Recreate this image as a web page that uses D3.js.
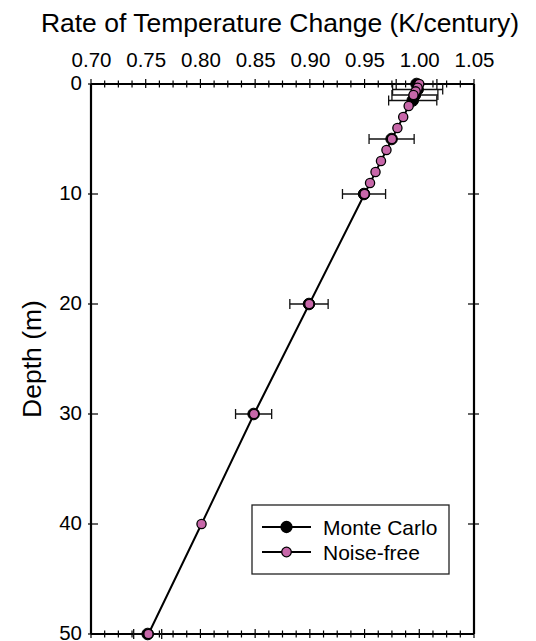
<!DOCTYPE html>
<html>
<head>
<meta charset="utf-8">
<script src="https://cdn.jsdelivr.net/npm/d3@7"></script>
<style>
  html, body { margin: 0; padding: 0; background: #fff; }
  svg { display: block; }
  text { font-family: "Liberation Sans", Arial, Helvetica, sans-serif; fill: #000; }
</style>
</head>
<body>
<svg id="chart" width="536" height="641"></svg>
<script>
// ---- data ----
const nfDepth = [0, 0.33, 0.67, 1, 2, 3, 4, 5, 6, 7, 8, 9, 10, 20, 30, 40, 50];
const nfRate  = [1.000, 0.9985, 0.9967, 0.9947, 0.9903, 0.9853, 0.980, 0.975, 0.970, 0.965, 0.960, 0.955, 0.950, 0.8995, 0.849, 0.801, 0.7525];

const mcDepth = [0, 0.5, 1, 1.5, 5, 10, 20, 30, 50];
const mcRate  = [0.9975, 0.9985, 0.996, 0.994, 0.9747, 0.9495, 0.8992, 0.8486, 0.7518];
const mcErr   = [0.0186, 0.0229, 0.021, 0.022, 0.0206, 0.0197, 0.0175, 0.0165, 0.0128];

const xTickValues = [0.70, 0.75, 0.80, 0.85, 0.90, 0.95, 1.00, 1.05];
const yTickValues = [0, 10, 20, 30, 40, 50];
const legendLabels = ["Monte Carlo", "Noise-free"];

const titleText = "Rate of Temperature Change (K/century)";
const yLabelText = "Depth (m)";

// ---- layout ----
const svg = d3.select("#chart");
const L = 91, R = 474, T = 84, B = 634;
const x = d3.scaleLinear().domain([0.70, 1.05]).range([L, R]);
const y = d3.scaleLinear().domain([0, 50]).range([T, B]);
const pink = "#c767a9";

const minorTicks = d3.range(0, 29).map(i => 0.70 + i * 0.0125);

// frame lines
const frame = svg.append("g").attr("stroke", "#000").attr("stroke-width", 2.2).attr("fill", "none");
frame.append("line").attr("x1", L).attr("x2", R).attr("y1", T).attr("y2", T);
frame.append("line").attr("x1", L).attr("x2", R).attr("y1", B).attr("y2", B);
frame.append("line").attr("x1", L).attr("x2", L).attr("y1", T).attr("y2", B);
frame.append("line").attr("x1", R).attr("x2", R).attr("y1", T).attr("y2", B);

// top axis (labels) and ticks
const topAxis = d3.axisTop(x).tickValues(xTickValues).tickFormat(d3.format(".2f")).tickSize(0).tickPadding(0);
const gTop = svg.append("g").attr("transform", `translate(0,${T})`).call(topAxis);
gTop.select(".domain").remove();
gTop.selectAll("text").attr("y", -17).attr("font-size", 20.5).attr("font-family", "Liberation Sans, Arial, sans-serif").attr("fill", "#000");

// tick marks on top & bottom
const tickG = svg.append("g").attr("stroke", "#000").attr("stroke-width", 1.2);
minorTicks.forEach((v, i) => {
  const major = i % 4 === 0;
  [T, B].forEach(yy => {
    tickG.append("line")
      .attr("x1", x(v)).attr("x2", x(v))
      .attr("y1", yy - (major ? 5 : 3.5)).attr("y2", yy + (major ? 4 : 3.5));
  });
});

// left axis labels
const leftAxis = d3.axisLeft(y).tickValues(yTickValues).tickSize(0).tickPadding(0);
const gLeft = svg.append("g").attr("transform", `translate(${L},0)`).call(leftAxis);
gLeft.select(".domain").remove();
gLeft.selectAll("text").attr("x", -9).attr("dy", "0.27em").attr("font-size", 20.5).attr("font-family", "Liberation Sans, Arial, sans-serif").attr("fill", "#000");

// y ticks on left & right
yTickValues.forEach(v => {
  tickG.append("line").attr("x1", L - 3).attr("x2", L + 7).attr("y1", y(v)).attr("y2", y(v));
  if (v > 0 && v < 50) tickG.append("line").attr("x1", R - 6).attr("x2", R + 5).attr("y1", y(v)).attr("y2", y(v));
});

// title & y label
svg.append("text").attr("x", 280).attr("y", 32).attr("text-anchor", "middle")
  .attr("font-size", 26.5).text(titleText);
svg.append("text").attr("transform", `translate(41,${(T + B) / 2}) rotate(-90)`)
  .attr("text-anchor", "middle").attr("font-size", 26.5).text(yLabelText);

// line (noise-free)
const nf = nfDepth.map((d, i) => ({ d, r: nfRate[i] }));
const mc = mcDepth.map((d, i) => ({ d, r: mcRate[i], e: mcErr[i] }));

svg.append("path").datum(nf)
  .attr("fill", "none").attr("stroke", "#000").attr("stroke-width", 2)
  .attr("d", d3.line().x(p => x(p.r)).y(p => y(p.d)));

// error bars
const eb = svg.append("g").attr("stroke", "#111").attr("stroke-width", 1.3);
mc.forEach(p => {
  const x0 = x(p.r - p.e), x1 = x(p.r + p.e), yy = y(p.d);
  eb.append("line").attr("x1", x0).attr("x2", x1).attr("y1", yy).attr("y2", yy);
  eb.append("line").attr("x1", x0).attr("x2", x0).attr("y1", yy - 5).attr("y2", yy + 5);
  eb.append("line").attr("x1", x1).attr("x2", x1).attr("y1", yy - 5).attr("y2", yy + 5);
});

// monte carlo markers
svg.append("g").selectAll("circle").data(mc).join("circle")
  .attr("cx", p => x(p.r)).attr("cy", p => y(p.d)).attr("r", 5.8)
  .attr("fill", "#000").attr("stroke", "#000").attr("stroke-width", 1);

// noise-free markers
svg.append("g").selectAll("circle").data(nf).join("circle")
  .attr("cx", p => x(p.r)).attr("cy", p => y(p.d)).attr("r", 4.6)
  .attr("fill", pink).attr("stroke", "#000").attr("stroke-width", 1.3);

// legend
const lg = svg.append("g");
lg.append("rect").attr("x", 252).attr("y", 505).attr("width", 197).attr("height", 69)
  .attr("fill", "#fff").attr("stroke", "#222").attr("stroke-width", 1.3);
legendLabels.forEach((lab, i) => {
  const yy = 527 + i * 25;
  lg.append("line").attr("x1", 262).attr("x2", 311).attr("y1", yy).attr("y2", yy)
    .attr("stroke", "#000").attr("stroke-width", 2);
  lg.append("circle").attr("cx", 286.5).attr("cy", yy).attr("r", i === 0 ? 5.5 : 4.8)
    .attr("fill", i === 0 ? "#000" : pink).attr("stroke", "#000").attr("stroke-width", 1.3);
  lg.append("text").attr("x", 323).attr("y", yy + 7.5).attr("font-size", 21).text(lab);
});
</script>
</body>
</html>
